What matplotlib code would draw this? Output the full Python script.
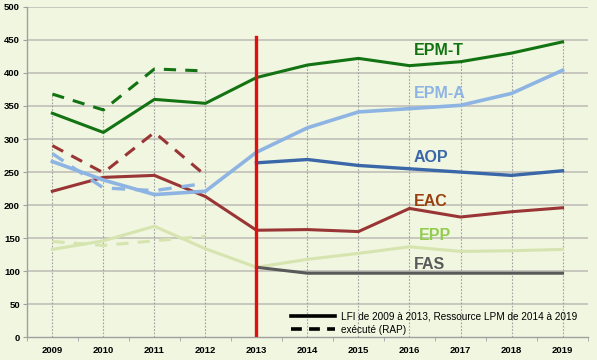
import matplotlib
matplotlib.use("Agg")
import matplotlib.pyplot as plt
from matplotlib.lines import Line2D
import numpy as np

plt.rcParams['font.family'] = ['Liberation Sans', 'DejaVu Sans']

years = ['2009', '2010', '2011', '2012', '2013', '2014', '2015', '2016', '2017', '2018', '2019']

# Solid series (LFI 2009-2013, Ressource LPM 2014-2019)
epm_t = [339, 310, 360, 354, 393, 412, 422, 411, 417, 430, 447]
epm_a = [266, 238, 216, 221, 280, 317, 341, 346, 351, 369, 404]
eac = [221, 242, 245, 213, 162, 163, 160, 195, 182, 190, 196]
epp = [133, 146, 168, 134, 106, 118, 127, 137, 130, 131, 133]
aop = [None, None, None, None, 264, 269, 260, 255, 250, 245, 252]
fas = [None, None, None, None, 106, 97, 97, 97, 97, 97, 97]

# Dashed series (exécuté RAP) 2009-2012
epm_t_rap = [368, 344, 406, 403]
epm_a_rap = [278, 226, 222, 233]
eac_rap = [290, 249, 310, 245]
epp_rap = [145, 139, 146, 153]

red_line_year = '2013'
red_line_top = 454

labels = ['EPM-T', 'EPM-A', 'AOP', 'EAC', 'EPP', 'FAS']

c_epmt = '#137313'
c_epma = '#8EB4E3'
c_aop = '#3A67A8'
c_eac = '#9A3535'
c_epp = '#D6E4B0'
c_fas = '#595959'
bg = '#F0F6E0'

fig = plt.figure(figsize=(5.97, 3.60), dpi=100)
fig.patch.set_facecolor(bg)
ax = fig.add_axes([0.045, 0.063, 0.94, 0.918])
ax.set_facecolor(bg)

x = np.arange(len(years))

def arr(v):
    return np.array([np.nan if a is None else a for a in v], dtype=float)

# horizontal gridlines
for g in range(50, 501, 50):
    ax.axhline(g, color='#C4C4BC', lw=1.3, zorder=1)

# drop lines
for i in range(len(years)):
    if i == 4:
        continue
    vals = [epm_t[i]]
    if i < 4:
        vals.append(epm_t_rap[i])
    top = max(vals)
    ax.plot([i, i], [0, top], color='#A0A0A0', lw=0.8, ls=(0, (1.5, 1.5)), zorder=2)

xr = np.arange(4)
ax.plot(xr, epp_rap, color=c_epp, lw=2.2, ls=(0, (4, 3)), zorder=3)
ax.plot(x, epp, color=c_epp, lw=2.2, zorder=3)
ax.plot(x, arr(fas), color=c_fas, lw=2.2, zorder=3)
ax.plot(xr, eac_rap, color=c_eac, lw=2.2, ls=(0, (4, 3)), zorder=3)
ax.plot(x, eac, color=c_eac, lw=2.2, zorder=3)
ax.plot(xr, epm_a_rap, color=c_epma, lw=2.4, ls=(0, (4, 3)), zorder=3)
ax.plot(x, epm_a, color=c_epma, lw=2.6, zorder=3)
ax.plot(x, arr(aop), color=c_aop, lw=2.4, zorder=3)
ax.plot(xr, epm_t_rap, color=c_epmt, lw=2.2, ls=(0, (4, 3)), zorder=3)
ax.plot(x, epm_t, color=c_epmt, lw=2.2, zorder=3)

ri = years.index(red_line_year)
ax.plot([ri, ri], [0, red_line_top], color='#E01010', lw=2.4, zorder=4)

# series labels
lab_pos = [(7.57, 434, c_epmt), (7.6, 369, c_epma), (7.42, 272, c_aop),
           (7.41, 206, '#9A4010'), (7.5, 154, '#92CC50'), (7.39, 110, '#595959')]
for lab, (lx, ly, lc) in zip(labels, lab_pos):
    ax.text(lx, ly, lab, color=lc, fontsize=11.5, fontweight='bold', ha='center', va='center', zorder=5)

ax.set_xlim(-0.5, len(years) - 0.5)
ax.set_ylim(0, 500)
ax.set_yticks(range(0, 501, 50))
ax.set_xticks(x)
ax.set_xticklabels(years)
ax.set_xticks(np.arange(-0.5, len(years), 1), minor=True)
ax.tick_params(axis='x', which='major', length=0, labelsize=6.8, pad=6)
ax.tick_params(axis='x', which='minor', length=3, color='#A0A0A0')
ax.tick_params(axis='y', length=3, color='#A0A0A0', labelsize=6.8, pad=2)
for lbl in ax.get_xticklabels() + ax.get_yticklabels():
    lbl.set_fontweight('bold')
for s in ['top', 'right']:
    ax.spines[s].set_visible(False)
for s in ['left', 'bottom']:
    ax.spines[s].set_color('#A0A0A0')
    ax.spines[s].set_linewidth(1.0)

handles = [Line2D([0], [0], color='black', lw=2.6),
           Line2D([0], [0], color='black', lw=2.6, ls=(0, (3, 2)))]
ax.legend(handles, ['LFI de 2009 à 2013, Ressource LPM de 2014 à 2019', 'exécuté (RAP)'],
          loc='lower left', bbox_to_anchor=(0.462, -0.008), frameon=False, fontsize=7.2,
          handlelength=4.4, labelspacing=0.3, handletextpad=0.6, borderaxespad=0.1)

fig.savefig('out.png', dpi=100, facecolor=bg)
